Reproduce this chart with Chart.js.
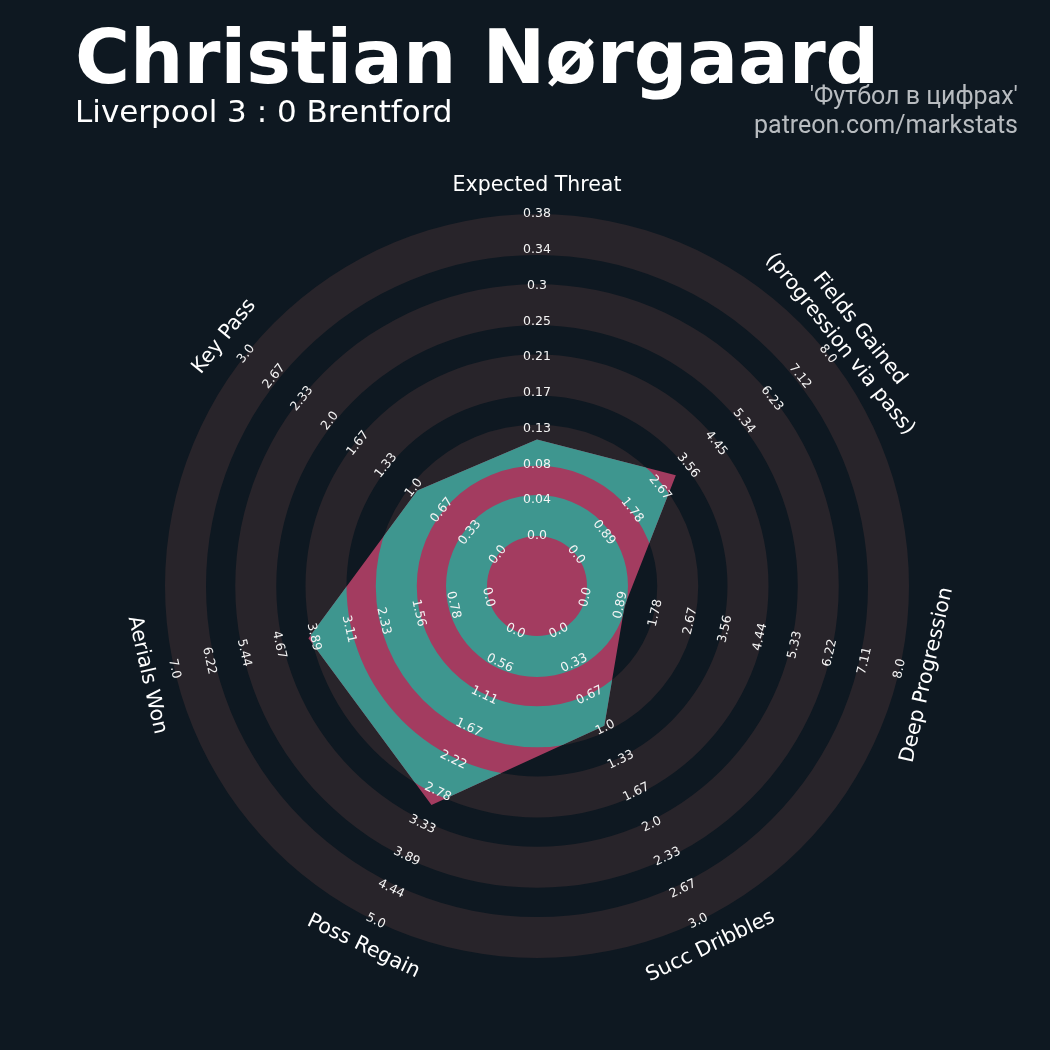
<!DOCTYPE html>
<html>
<head>
<meta charset="utf-8">
<title>Christian Nørgaard radar</title>
<script src="https://cdn.jsdelivr.net/npm/chart.js@4.4.1/dist/chart.umd.min.js"></script>
<style>
  body { margin: 0; background: #0e1821; }
  #wrap { position: relative; width: 1050px; height: 1050px; overflow: hidden; }
  #radar { position: absolute; left: 0; top: 0; }
  .txt { position: absolute; line-height: 1; white-space: nowrap; }
  #title { left: 75px; top: 13px; font: bold 75px "DejaVu Sans"; color: #ffffff; }
  #subtitle { left: 75px; top: 93px; font: 31px "DejaVu Sans"; color: #ffffff; }
  .credit { right: 32px; font: 25px Roboto; color: #b8bcc0; text-align: right; }
</style>
</head>
<body>
<div id="wrap">
  <canvas id="radar" width="1050" height="1050"></canvas>
  <div class="txt" id="title">Christian Nørgaard</div>
  <div class="txt" id="subtitle">Liverpool 3 : 0 Brentford</div>
  <div class="txt credit" style="top:81px">'Футбол в цифрах'</div>
  <div class="txt credit" style="top:110px">patreon.com/markstats</div>
</div>
<script>
// Radar data
const params = ["Expected Threat", "Fields Gained\n(progression via pass)", "Deep Progression",
                "Succ Dribbles", "Poss Regain", "Aerials Won", "Key Pass"];
const lowRange = [0, 0, 0, 0, 0, 0, 0];
const highRange = [0.38, 8.0, 8.0, 3.0, 5.0, 7.0, 3.0];
const playerValues = [0.114, 3.17, 0.99, 0.98, 3.0, 4.01, 0.96];
const tickLabels = [
    ["0.0", "0.04", "0.08", "0.13", "0.17", "0.21", "0.25", "0.3", "0.34", "0.38"],
    ["0.0", "0.89", "1.78", "2.67", "3.56", "4.45", "5.34", "6.23", "7.12", "8.0"],
    ["0.0", "0.89", "1.78", "2.67", "3.56", "4.44", "5.33", "6.22", "7.11", "8.0"],
    ["0.0", "0.33", "0.67", "1.0", "1.33", "1.67", "2.0", "2.33", "2.67", "3.0"],
    ["0.0", "0.56", "1.11", "1.67", "2.22", "2.78", "3.33", "3.89", "4.44", "5.0"],
    ["0.0", "0.78", "1.56", "2.33", "3.11", "3.89", "4.67", "5.44", "6.22", "7.0"],
    ["0.0", "0.33", "0.67", "1.0", "1.33", "1.67", "2.0", "2.33", "2.67", "3.0"]
];

// ring layout (in tick steps)
const NUM_RINGS = 9;
const CENTER_RADIUS = 1.397;
const BAND_WIDTH = 1.146;
const BAND_STEP = (NUM_RINGS - BAND_WIDTH) / 4;

const PINK = "#a33c60";
const TEAL = "#3e968f";
const RING_GREY = "#28242a";

// each value as a position along its own axis, in tick steps
const scaled = playerValues.map((v, i) => (v - lowRange[i]) / (highRange[i] - lowRange[i]) * NUM_RINGS);

function drawBands(ctx, scale) {
    const cx = scale.xCenter, cy = scale.yCenter;
    for (let i = 0; i < 5; i++) {
        const r0 = scale.getDistanceFromCenterForValue(i * BAND_STEP);
        const r1 = scale.getDistanceFromCenterForValue(i * BAND_STEP + BAND_WIDTH);
        ctx.beginPath();
        ctx.moveTo(cx + r1, cy);
        ctx.arc(cx, cy, r1, 0, Math.PI * 2);
        ctx.moveTo(cx + r0, cy);
        ctx.arc(cx, cy, r0, 0, Math.PI * 2, true);
        ctx.fill();
    }
}

// keep text along the ring, never upside down
function textAngle(scale, i) {
    let a = scale.getIndexAngle(i) * 180 / Math.PI;
    a = ((a + 180) % 360 + 360) % 360 - 180;
    if (a > 90) a -= 180;
    if (a < -90) a += 180;
    return a * Math.PI / 180;
}

const ringsPlugin = {
    id: "rings",
    beforeDatasetsDraw(chart) {
        const ctx = chart.ctx;
        ctx.save();
        ctx.fillStyle = RING_GREY;
        drawBands(ctx, chart.scales.r);
        ctx.restore();
    },
    afterDatasetsDraw(chart) {
        const ctx = chart.ctx;
        const scale = chart.scales.r;
        const pts = chart.getDatasetMeta(0).data;

        // teal bands inside the polygon
        ctx.save();
        ctx.beginPath();
        pts.forEach((p, i) => i ? ctx.lineTo(p.x, p.y) : ctx.moveTo(p.x, p.y));
        ctx.closePath();
        ctx.clip();
        ctx.fillStyle = TEAL;
        drawBands(ctx, scale);
        ctx.restore();

        // range labels
        ctx.save();
        ctx.fillStyle = "#f4f4f4";
        ctx.font = "12.5px 'DejaVu Sans'";
        ctx.textAlign = "center";
        ctx.textBaseline = "middle";
        tickLabels.forEach((labels, i) => {
            const rot = textAngle(scale, i);
            labels.forEach((lab, k) => {
                const p = scale.getPointPosition(i, scale.getDistanceFromCenterForValue(k));
                ctx.save();
                ctx.translate(p.x, p.y);
                ctx.rotate(rot);
                ctx.fillText(lab, 0, 0);
                ctx.restore();
            });
        });

        // parameter names
        ctx.fillStyle = "#ffffff";
        ctx.font = "20.5px 'DejaVu Sans'";
        const dist = scale.getDistanceFromCenterForValue(NUM_RINGS) + 28;
        params.forEach((name, i) => {
            const p = scale.getPointPosition(i, dist);
            const lines = name.split("\n");
            ctx.save();
            ctx.translate(p.x, p.y);
            ctx.rotate(textAngle(scale, i));
            lines.forEach((ln, j) => ctx.fillText(ln, 0, (j - (lines.length - 1) / 2) * 25));
            ctx.restore();
        });
        ctx.restore();
    }
};

new Chart(document.getElementById("radar"), {
    type: "radar",
    data: {
        labels: params,
        datasets: [{
            data: scaled,
            backgroundColor: PINK,
            borderWidth: 0,
            pointRadius: 0,
            pointHoverRadius: 0,
            fill: "start",
            tension: 0
        }]
    },
    options: {
        responsive: false,
        animation: false,
        layout: { padding: { left: 165, right: 141, top: 214, bottom: 92 } },
        plugins: { legend: { display: false }, tooltip: { enabled: false } },
        scales: {
            r: {
                min: -CENTER_RADIUS,
                max: NUM_RINGS,
                grid: { display: false },
                angleLines: { display: false },
                ticks: { display: false },
                pointLabels: { display: false }
            }
        }
    },
    plugins: [ringsPlugin]
});
</script>
</body>
</html>
